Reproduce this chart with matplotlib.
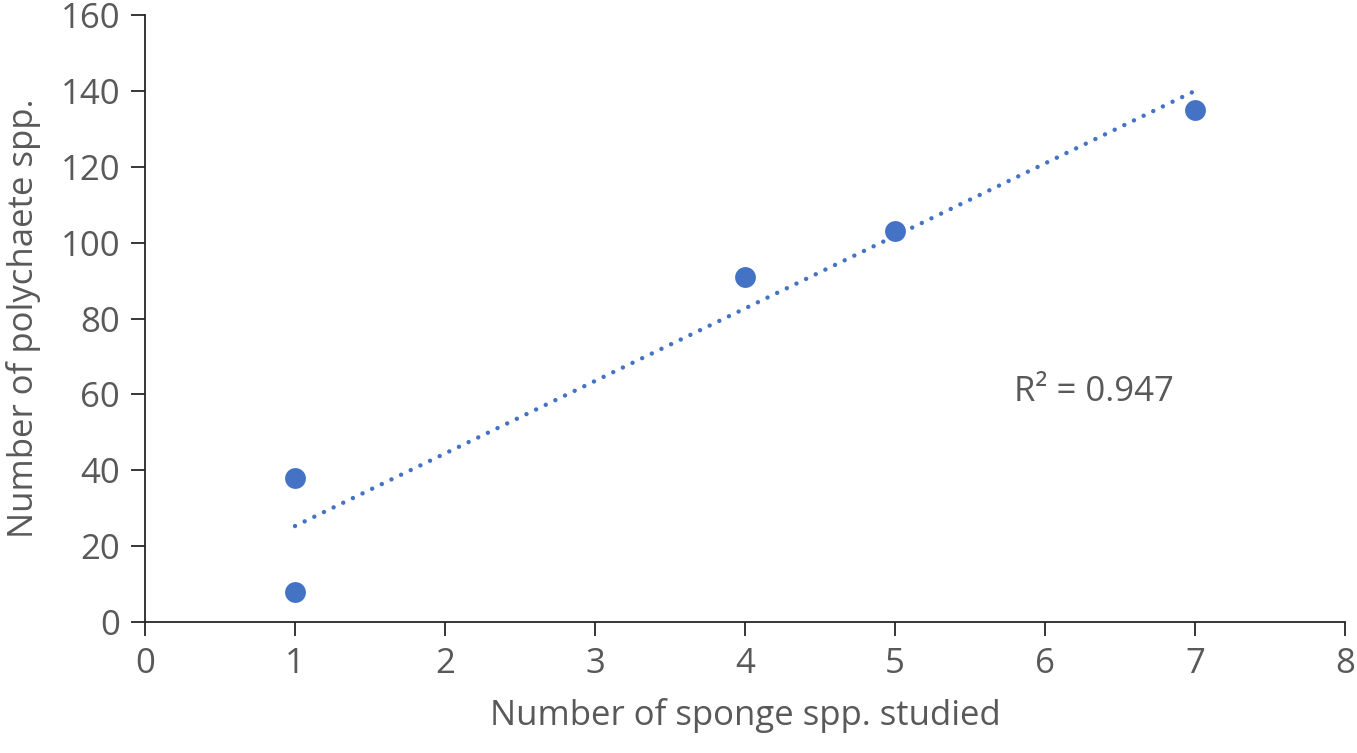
import numpy as np
import matplotlib
matplotlib.use("Agg")
import matplotlib.pyplot as plt

# sponge species studied vs polychaete species found
sponge_spp = [1, 1, 4, 5, 7]
polychaete_spp = [38, 8, 91, 103, 135]

x_ticks = [0, 1, 2, 3, 4, 5, 6, 7, 8]
y_ticks = [0, 20, 40, 60, 80, 100, 120, 140, 160]

plt.rcParams['font.family'] = ['Open Sans', 'DejaVu Sans']
text_color = '#595959'
blue = '#4472C4'

fig = plt.figure(figsize=(13.57, 7.53), dpi=100)
ax = fig.add_axes([145 / 1357, 1 - 622 / 753, 1200 / 1357, 607 / 753])

ax.scatter(sponge_spp, polychaete_spp, s=225, color=blue, zorder=3, linewidths=0)

# linear trendline (round dots)
slope, intercept = np.polyfit(sponge_spp, polychaete_spp, 1)
fit_x = np.array([min(sponge_spp), max(sponge_spp)])
ax.plot(fit_x, slope * fit_x + intercept, color=blue, lw=3.2, linestyle=(0, (0.01, 2.4)),
        dash_capstyle='round', zorder=2)

pred = slope * np.array(sponge_spp) + intercept
r2 = 1 - np.sum((np.array(polychaete_spp) - pred) ** 2) / np.sum((np.array(polychaete_spp) - np.mean(polychaete_spp)) ** 2)
ax.text(5.79, 60.5, f"R\u00b2 = {r2:.3f}", fontsize=25, color=text_color, va='center', ha='left')

ax.set_xlim(0, 8)
ax.set_ylim(0, 160)
ax.set_xticks(x_ticks)
ax.set_yticks(y_ticks)

for s in ['top', 'right']:
    ax.spines[s].set_visible(False)
for s in ['left', 'bottom']:
    ax.spines[s].set_color('#262626')
    ax.spines[s].set_linewidth(1.3)

ax.tick_params(axis='both', direction='out', length=10, width=1.3, color='#262626',
               labelsize=25, labelcolor=text_color, pad=8)

ax.set_xlabel('Number of sponge spp. studied', fontsize=25, color=text_color, labelpad=12)
ax.set_ylabel('Number of polychaete spp.', fontsize=25, color=text_color, labelpad=14)

fig.savefig('out.png', dpi=100)
